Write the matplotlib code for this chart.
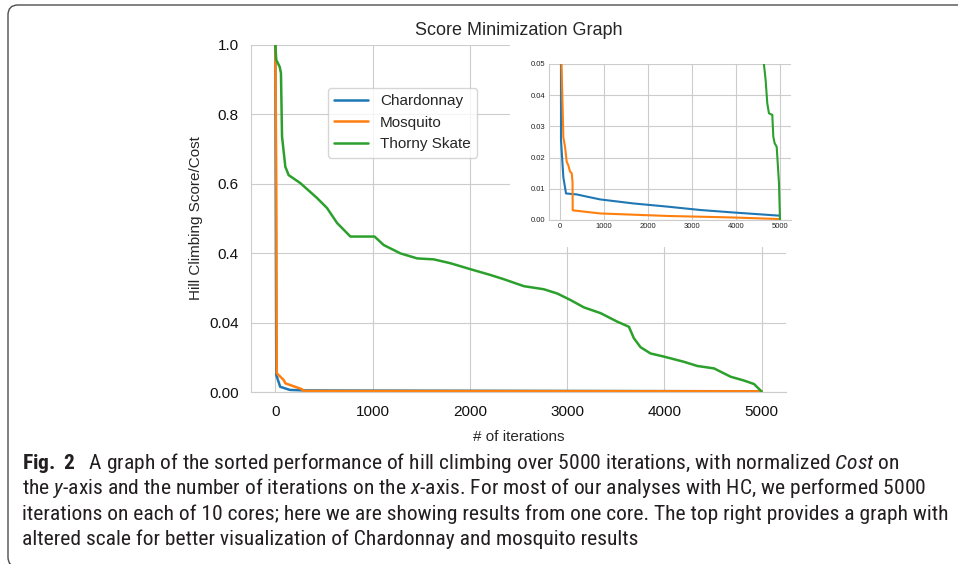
import numpy as np
import matplotlib
matplotlib.use("Agg")
import matplotlib.pyplot as plt
import seaborn as sns
from matplotlib import font_manager
from matplotlib.patches import FancyBboxPatch, Rectangle
from matplotlib.transforms import IdentityTransform

# main panel (cost on the stretched axis)
chard_iter = [0, 10, 50, 150, 300, 1000, 3000, 5000]
chard_cost = [1.0, 0.0098, 0.003, 0.0012, 0.0009, 0.0008, 0.0006, 0.0004]
mosq_iter = [0, 10, 15, 86, 103, 275, 290, 5000]
mosq_cost = [1.0, 0.6, 0.0108, 0.0069, 0.005, 0.0016, 0.0006, 0.0004]
skate_iter = [0, 10, 45, 58, 69, 103, 137, 257, 429, 532, 635, 772, 1020, 1114,
              1286, 1458, 1629, 1800, 2006, 2212, 2349, 2555, 2760, 2898, 3035,
              3172, 3344, 3515, 3635, 3686, 3755, 3858, 3995, 4201, 4338, 4510,
              4681, 4818, 4921, 4990, 5000]
skate_cost = [1.0, 0.957, 0.937, 0.919, 0.736, 0.649, 0.625, 0.602, 0.559, 0.53,
              0.487, 0.448, 0.448, 0.4236, 0.399, 0.373, 0.368, 0.348, 0.317,
              0.287, 0.265, 0.229, 0.213, 0.191, 0.157, 0.119, 0.089, 0.045,
              0.0376, 0.031, 0.0258, 0.0222, 0.0204, 0.0174, 0.015, 0.0136,
              0.0088, 0.0066, 0.0046, 0.0008, 0.0]

# inset panel
chard_iter_zoom = [0, 23, 38, 76, 137, 380, 608, 912, 1672, 2432, 3191, 3951, 4977]
chard_cost_zoom = [1.0, 0.0256, 0.0222, 0.0137, 0.0085, 0.0082, 0.0075, 0.0066,
                   0.0053, 0.0043, 0.0032, 0.0024, 0.0014]
mosq_iter_zoom = [0, 35, 76, 114, 152, 190, 228, 266, 285, 289, 912, 2432, 3951, 5000]
mosq_cost_zoom = [1.0, 0.05, 0.0265, 0.0235, 0.0187, 0.0175, 0.0155, 0.015,
                  0.0121, 0.0031, 0.0021, 0.0013, 0.0008, 0.0003]
skate_iter_zoom = [4600, 4634, 4673, 4711, 4749, 4825, 4848, 4878, 4924, 4939, 4977, 5000]
skate_cost_zoom = [0.058, 0.05, 0.0449, 0.0374, 0.0342, 0.0337, 0.0267, 0.0246,
                   0.0235, 0.0203, 0.0117, 0.0]

ytick_vals = [0, 0.04, 0.4, 0.6, 0.8, 1.0]
ytick_labels = ['0.00', '0.04', '0.4', '0.6', '0.8', '1.0']
xticks = [0, 1000, 2000, 3000, 4000, 5000]

caption = [
    r"$\mathbf{Fig.\ 2}$   A graph of the sorted performance of hill climbing over 5000 iterations, with normalized $\mathit{Cost}$ on",
    r"the $\mathit{y}$-axis and the number of iterations on the $\mathit{x}$-axis. For most of our analyses with HC, we performed 5000",
    "iterations on each of 10 cores; here we are showing results from one core. The top right provides a graph with",
    "altered scale for better visualization of Chardonnay and mosquito results",
]

colors = ['#1f77b4', '#ff7f0e', '#2ca02c']


def pick_caption_font():
    # a narrow face is closest to the journal caption font
    for name in ['Liberation Sans Narrow', 'DejaVu Sans Condensed',
                 'Roboto Condensed', 'Open Sans Condensed']:
        try:
            font_manager.findfont(font_manager.FontProperties(family=name),
                                  fallback_to_default=False)
            return name, 'normal'
        except ValueError:
            pass
    path = font_manager.findfont(font_manager.FontProperties(
        family='DejaVu Sans', stretch='condensed'))
    if 'Condensed' in path:
        return 'DejaVu Sans', 'condensed'
    return 'Liberation Sans', 'normal'


sns.set_style("whitegrid")
plt.rcParams['font.family'] = ['Liberation Sans', 'DejaVu Sans']
cap_font, cap_stretch = pick_caption_font()
plt.rcParams['font.stretch'] = 'normal'
plt.rcParams['mathtext.fontset'] = 'custom'
plt.rcParams['mathtext.rm'] = cap_font
plt.rcParams['mathtext.it'] = cap_font + ':italic'
plt.rcParams['mathtext.bf'] = cap_font + ':bold'
if cap_stretch == 'condensed':
    plt.rcParams['mathtext.rm'] = cap_font + ':condensed'
    plt.rcParams['mathtext.it'] = cap_font + ':italic:condensed'
    plt.rcParams['mathtext.bf'] = cap_font + ':bold:condensed'


def fwd(v):
    return np.interp(v, ytick_vals, [0, 0.2, 0.4, 0.6, 0.8, 1.0])


def inv(p):
    return np.interp(p, [0, 0.2, 0.4, 0.6, 0.8, 1.0], ytick_vals)


fig = plt.figure(figsize=(9.58, 5.64), dpi=100)
ax = fig.add_axes([251 / 958, 1 - 392 / 564, 535 / 958, 347 / 564])
ax.set_yscale('function', functions=(fwd, inv))
ax.plot(chard_iter, chard_cost, color=colors[0], lw=1.8, label='Chardonnay')
ax.plot(mosq_iter, mosq_cost, color=colors[1], lw=1.8, label='Mosquito')
ax.plot(skate_iter, skate_cost, color=colors[2], lw=1.8, label='Thorny Skate')
ax.set_xlim(-250, 5250)
ax.set_ylim(0, 1)
ax.set_xticks(xticks)
ax.set_yticks(ytick_vals)
ax.set_yticklabels(ytick_labels)
ax.tick_params(length=0, pad=9, labelsize=11, colors='#111111')
ax.set_title("Score Minimization Graph", fontsize=13, pad=7)
ax.set_xlabel("# of iterations", fontsize=11, labelpad=8)
ax.set_ylabel("Hill Climbing Score/Cost", fontsize=11, labelpad=4)
for s in ['top', 'right']:
    ax.spines[s].set_visible(False)
ax.legend(loc='upper left', bbox_to_anchor=(0.144, 0.876), borderaxespad=0,
          fontsize=11, handlelength=2.2)

# white area behind the inset
ax.add_patch(Rectangle((0.484, 0.418), 0.6, 0.59, transform=ax.transAxes,
                       facecolor='white', edgecolor='none', zorder=1.5, clip_on=False))

ins = fig.add_axes([549 / 958, 1 - 220 / 564, 242 / 958, 156 / 564])
ins.plot(chard_iter_zoom, chard_cost_zoom, color=colors[0], lw=1.5)
ins.plot(mosq_iter_zoom, mosq_cost_zoom, color=colors[1], lw=1.5)
ins.plot(skate_iter_zoom, skate_cost_zoom, color=colors[2], lw=1.5)
ins.set_xlim(-250, 5250)
ins.set_ylim(0, 0.05)
ins.set_xticks(xticks)
ins.set_yticks([0, 0.01, 0.02, 0.03, 0.04, 0.05])
ins.set_yticklabels(['0.00', '0.01', '0.02', '0.03', '0.04', '0.05'])
ins.tick_params(length=0, pad=2.5, labelsize=5.5, colors='#222222')
for s in ['top', 'right']:
    ins.spines[s].set_visible(False)

# caption
cap_texts = []
for i, line in enumerate(caption):
    t = fig.text(22 / 958, 1 - (469 + 25.3 * i) / 564, line, family=cap_font,
                 stretch=cap_stretch, fontsize=15, color='#231f20',
                 va='baseline', ha='left')
    cap_texts.append(t)
renderer = fig.canvas.get_renderer()
w = cap_texts[2].get_window_extent(renderer).width
for t in cap_texts:
    t.set_fontsize(15 * 928 / w)

fig.add_artist(FancyBboxPatch((8, -3), 1200, 564 - 5 + 3,
                              boxstyle='round,pad=0,rounding_size=10',
                              transform=IdentityTransform(), fill=False,
                              edgecolor='#4d4d4d', lw=1.0))

fig.savefig('out.png', dpi=100)
